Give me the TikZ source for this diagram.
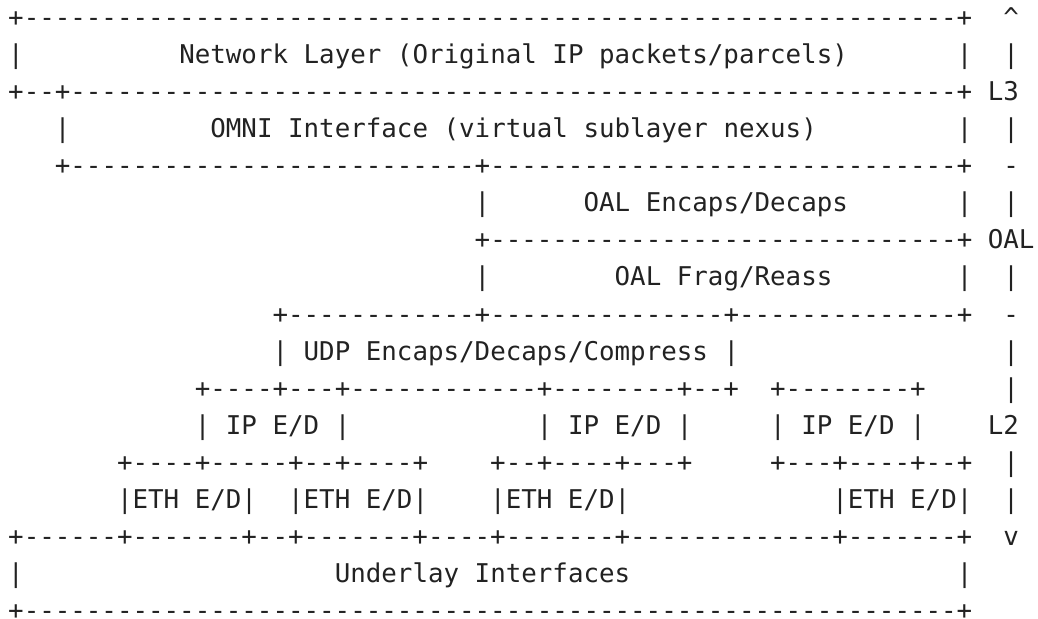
\documentclass[tikz,border=0pt]{standalone}
\usepackage{fontspec}
\setmonofont{DejaVu Sans Mono}
\definecolor{ink}{HTML}{222222}

\begin{document}
\begin{tikzpicture}[
		x=0.5pt, y=-0.5pt,
		asciirow/.style={anchor=base west, inner sep=0pt, outer sep=0pt, text=ink,
			font=\ttfamily\fontsize{12.915pt}{15pt}\selectfont}
		]
		\useasboundingbox (0,0) rectangle (1038,618);
		% layer stack, one node per text row
		\node[asciirow] (row0) at (8.2,26.4) {+------------------------------------------------------------+~~\textasciicircum};
		\node[asciirow] (row1) at (8.2,63.48) {|~~~~~~~~~~Network Layer (Original IP packets/parcels)~~~~~~~|~~|};
		\node[asciirow] (row2) at (8.2,100.56) {+--+---------------------------------------------------------+~L3};
		\node[asciirow] (row3) at (8.2,137.64) {~~~|~~~~~~~~~OMNI Interface (virtual sublayer nexus)~~~~~~~~~|~~|};
		\node[asciirow] (row4) at (8.2,174.72) {~~~+--------------------------+------------------------------+~~-};
		\node[asciirow] (row5) at (8.2,211.8) {~~~~~~~~~~~~~~~~~~~~~~~~~~~~~~|~~~~~~OAL Encaps/Decaps~~~~~~~|~~|};
		\node[asciirow] (row6) at (8.2,248.88) {~~~~~~~~~~~~~~~~~~~~~~~~~~~~~~+------------------------------+~OAL};
		\node[asciirow] (row7) at (8.2,285.96) {~~~~~~~~~~~~~~~~~~~~~~~~~~~~~~|~~~~~~~~OAL Frag/Reass~~~~~~~~|~~|};
		\node[asciirow] (row8) at (8.2,323.04) {~~~~~~~~~~~~~~~~~+------------+---------------+--------------+~~-};
		\node[asciirow] (row9) at (8.2,360.12) {~~~~~~~~~~~~~~~~~|~UDP Encaps/Decaps/Compress~|~~~~~~~~~~~~~~~~~|};
		\node[asciirow] (row10) at (8.2,397.2) {~~~~~~~~~~~~+----+---+------------+--------+--+~~+--------+~~~~~|};
		\node[asciirow] (row11) at (8.2,434.28) {~~~~~~~~~~~~|~IP E/D~|~~~~~~~~~~~~|~IP E/D~|~~~~~|~IP E/D~|~~~~L2};
		\node[asciirow] (row12) at (8.2,471.36) {~~~~~~~+----+-----+--+----+~~~~+--+----+---+~~~~~+---+----+--+~~|};
		\node[asciirow] (row13) at (8.2,508.44) {~~~~~~~|ETH E/D|~~|ETH E/D|~~~~|ETH E/D|~~~~~~~~~~~~~|ETH E/D|~~|};
		\node[asciirow] (row14) at (8.2,545.52) {+------+-------+--+-------+----+-------+-------------+-------+~~v};
		\node[asciirow] (row15) at (8.2,582.6) {|~~~~~~~~~~~~~~~~~~~~Underlay Interfaces~~~~~~~~~~~~~~~~~~~~~|};
		\node[asciirow] (row16) at (8.2,619.68) {+------------------------------------------------------------+};
\end{tikzpicture}
\end{document}
